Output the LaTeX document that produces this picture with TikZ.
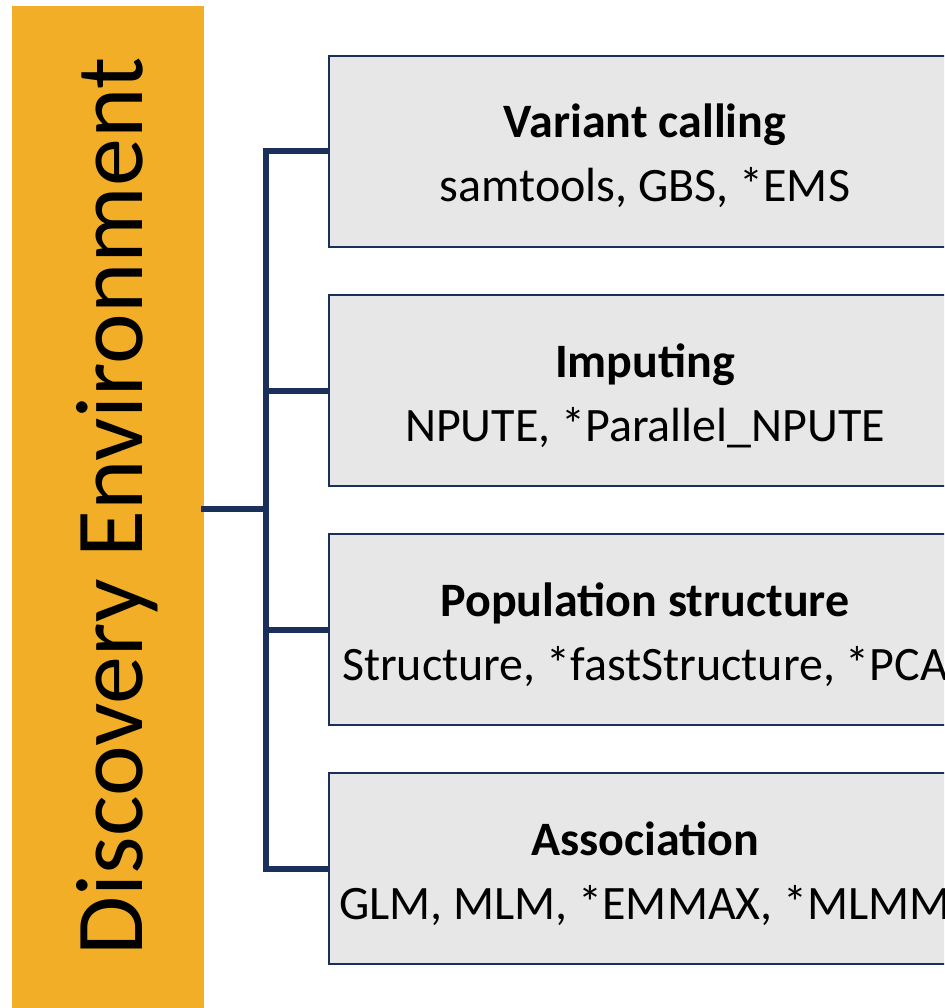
\documentclass[tikz,border=0pt]{standalone}
\usepackage{fontspec}
\setmainfont{Carlito}
\usepackage{tikz}
\usetikzlibrary{positioning}
\definecolor{deorange}{HTML}{F3AE28}
\definecolor{denavy}{HTML}{1B2F5B}
\definecolor{degray}{HTML}{E7E7E7}
\tikzstyle{de bar}=[rectangle, fill=deorange, inner sep=0pt,
minimum width=192pt, minimum height=1010pt, anchor=north west]
\tikzstyle{tool box}=[rectangle, draw=denavy, line width=2pt, fill=degray,
minimum width=632pt, minimum height=191pt, anchor=north west]
\tikzstyle{tool title}=[anchor=base, font=\fontsize{48}{56}\selectfont\bfseries]
\tikzstyle{tool list}=[anchor=base, font=\fontsize{48}{56}\selectfont]
\tikzstyle{link}=[draw=denavy, line width=6pt, line cap=rect]

\begin{document}
\begin{tikzpicture}[x=1pt, y=-1pt]
  \clip (0,0) rectangle (944,1008);
  \node[de bar] (env) at (12,6) {};
  \node[anchor=base, rotate=90, font=\fontsize{96}{110}\selectfont] (envtext) at (142,506) {Discovery Environment};

  % the four analysis steps
  \node[tool box] (vc) at (328,55) {};
  \node[tool box] (imp) at (328,294) {};
  \node[tool box] (pop) at (328,533) {};
  \node[tool box] (assoc) at (328,772) {};

  \node[tool title] (vctitle) at ([yshift=-83pt]vc.north) {Variant calling};
  \node[tool list] (vclist) at ([yshift=-147pt]vc.north) {samtools, GBS, *EMS};
  \node[tool title] (imptitle) at ([yshift=-83pt]imp.north) {Imputing};
  \node[tool list] (implist) at ([yshift=-147pt]imp.north) {NPUTE, *Parallel\_NPUTE};
  \node[tool title] (poptitle) at ([yshift=-83pt]pop.north) {Population structure};
  \node[tool list] (poplist) at ([yshift=-147pt]pop.north) {Structure, *fastStructure, *PCA};
  \node[tool title] (assoctitle) at ([yshift=-83pt]assoc.north) {Association};
  \node[tool list] (assoclist) at ([yshift=-147pt]assoc.north) {GLM, MLM, *EMMAX, *MLMM};

  % connectors
  \coordinate (hub) at (266,509);
  \draw[link] (env.east |- hub) -- (hub);
  \draw[link] (hub |- vc.west) -- (hub |- assoc.west);
  \foreach \b in {vc,imp,pop,assoc}
    \draw[link, line cap=butt] (hub |- \b.west) -- (\b.west);
\end{tikzpicture}
\end{document}
